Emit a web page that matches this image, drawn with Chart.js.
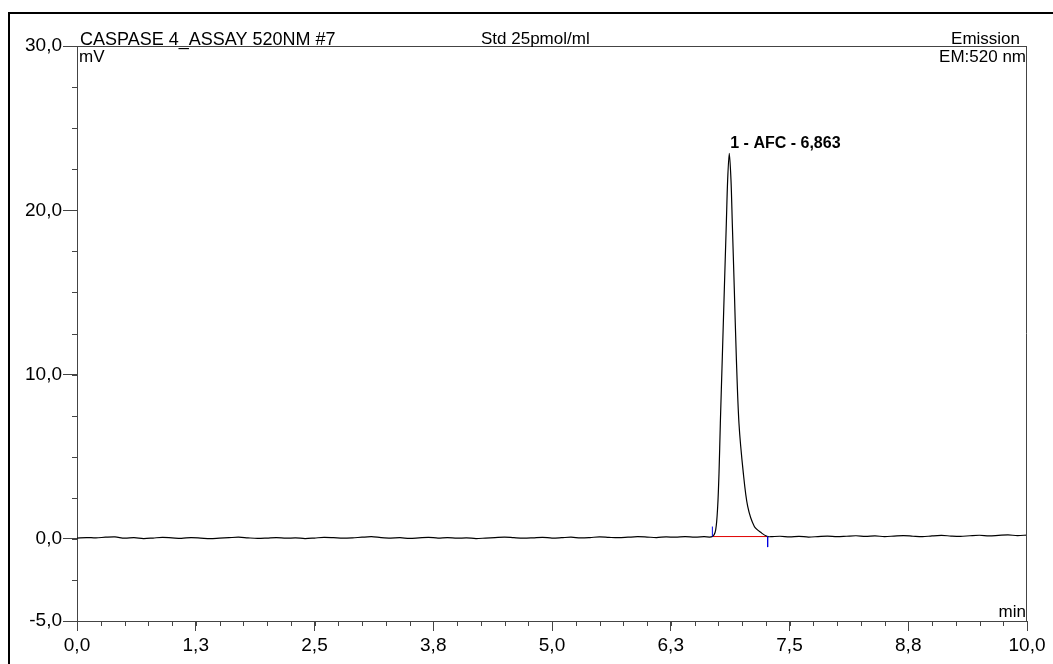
<!DOCTYPE html>
<html>
<head>
<meta charset="utf-8">
<script src="https://cdn.jsdelivr.net/npm/chart.js@4"></script>
<style>
  html, body { margin: 0; padding: 0; background: #fff; }
  #wrap { width: 1053px; height: 664px; }
</style>
</head>
<body>
<div id="wrap"><canvas id="myChart" width="1053" height="664"></canvas></div>
<script>
// chromatogram: baseline sampled every 0.1 min, peak traced by hand
const baseStep = 0.1;
const baseBefore = [0.05,0.08,0.06,0.1,0.12,0.04,0.07,0.02,0.05,0.09,
  0.06,0.03,0.08,0.05,0.01,0.04,0.07,0.1,0.06,0.03,
  0.05,0.08,0.04,0.06,0.02,0.05,0.09,0.07,0.04,0.06,
  0.1,0.13,0.08,0.05,0.07,0.03,0.06,0.09,0.05,0.08,
  0.04,0.06,0.02,0.05,0.08,0.11,0.07,0.04,0.06,0.09,
  0.05,0.07,0.1,0.06,0.08,0.12,0.09,0.07,0.1,0.13,
  0.11,0.08,0.12,0.1,0.14,0.11,0.13];           // 0.0 .. 6.6 min
const peakTimes = [6.688,6.723,6.744,6.758,6.772,6.793,6.814,6.835,6.849,6.866,
  6.884,6.898,6.919,6.94,6.968,7.014,7.06,7.13,7.207,7.27];
const peakValues = [0.14,0.55,1.97,4.0,7.04,11.1,15.2,19.2,21.85,23.47,
  21.85,19.2,15.2,11.1,7.04,4.0,1.97,0.75,0.35,0.14];
const afterStart = 7.3;
const baseAfter = [0.13,0.16,0.12,0.15,0.11,0.14,0.17,0.13,0.16,0.19,
  0.15,0.18,0.14,0.17,0.2,0.16,0.13,0.18,0.21,0.17,
  0.15,0.19,0.22,0.18,0.21,0.24,0.2,0.23];       // 7.3 .. 10.0 min

// peak annotation + integration limits
const peakName = '1 - AFC - 6,863';
const peakApex = 6.866;
const intStart = 6.688, intEnd = 7.27, intLevel = 0.14;

// axes
const xTickValues = [0, 1.25, 2.5, 3.75, 5, 6.25, 7.5, 8.75, 10];
const xTickLabels = ['0,0','1,3','2,5','3,8','5,0','6,3','7,5','8,8','10,0'];
const yTickValues = [30, 20, 10, 0, -5];
const yTickLabels = ['30,0','20,0','10,0','0,0','-5,0'];
const xMinorStep = 0.25, yMinorStep = 2.5;

const trace = [];
baseBefore.forEach((v, i) => trace.push({ x: +(i * baseStep).toFixed(2), y: v }));
peakTimes.forEach((t, i) => trace.push({ x: t, y: peakValues[i] }));
baseAfter.forEach((v, i) => trace.push({ x: +(afterStart + i * baseStep).toFixed(2), y: v }));

const FONT = '"Liberation Sans", Arial, sans-serif';

const decor = {
  id: 'decor',
  afterDraw(chart) {
    const ctx = chart.ctx;
    const a = chart.chartArea;
    const xs = chart.scales.x, ys = chart.scales.y;
    ctx.save();
    // outer frame (top + left)
    ctx.strokeStyle = '#000';
    ctx.lineWidth = 2;
    ctx.beginPath();
    ctx.moveTo(8, 13); ctx.lineTo(1053, 13);
    ctx.moveTo(9, 12); ctx.lineTo(9, 664);
    ctx.stroke();
    // plot box top + right
    ctx.strokeStyle = '#444';
    ctx.lineWidth = 1;
    ctx.beginPath();
    ctx.moveTo(a.left, a.top + 0.5); ctx.lineTo(a.right, a.top + 0.5);
    ctx.moveTo(a.right - 0.5, a.top); ctx.lineTo(a.right - 0.5, a.bottom);
    ctx.stroke();
    // minor ticks
    ctx.beginPath();
    for (let v = 0; v <= 10 + 1e-9; v += xMinorStep) {
      const px = Math.round(xs.getPixelForValue(v)) + 0.5;
      ctx.moveTo(px, a.bottom); ctx.lineTo(px, a.bottom + 5);
    }
    for (let v = -5; v <= 30 + 1e-9; v += yMinorStep) {
      const py = Math.round(ys.getPixelForValue(v)) + 0.5;
      ctx.moveTo(a.left - 5, py); ctx.lineTo(a.left, py);
    }
    ctx.stroke();
    // texts
    ctx.fillStyle = '#000';
    ctx.textBaseline = 'alphabetic';
    ctx.textAlign = 'left';
    ctx.font = '18px ' + FONT;
    ctx.fillText('CASPASE 4_ASSAY 520NM #7', a.left + 3, a.top - 1);
    ctx.font = '17px ' + FONT;
    ctx.fillText('Std 25pmol/ml', 481, a.top - 2);
    ctx.fillText('mV', a.left + 2, a.top + 16);
    ctx.textAlign = 'right';
    ctx.fillText('Emission', 1020, a.top - 2);
    ctx.fillText('EM:520 nm', a.right - 1, a.top + 16);
    ctx.fillText('min', a.right - 1, a.bottom - 4);
    // peak label
    const apexY = Math.max(...peakValues);
    ctx.font = 'bold 16px ' + FONT;
    ctx.textAlign = 'left';
    ctx.fillText(peakName, xs.getPixelForValue(peakApex) + 1, ys.getPixelForValue(apexY) - 5);
    ctx.restore();
  }
};

const config = {
  type: 'line',
  data: {
    datasets: [
      { data: trace, borderColor: '#000', borderWidth: 1.2, pointRadius: 0, tension: 0.3, order: 1 },
      { data: [{ x: intStart, y: intLevel }, { x: intEnd, y: intLevel }], borderColor: '#e00000', borderWidth: 1, pointRadius: 0, order: 2 },
      { data: [{ x: intStart, y: intLevel }, { x: intStart, y: 0.75 }], borderColor: '#0000e0', borderWidth: 1, pointRadius: 0, order: 0 },
      { data: [{ x: intEnd, y: intLevel }, { x: intEnd, y: -0.5 }], borderColor: '#0000e0', borderWidth: 1, pointRadius: 0, order: 0 }
    ]
  },
  options: {
    responsive: false,
    animation: false,
    layout: { padding: { left: 0, top: 46, right: 26, bottom: 0 } },
    plugins: { legend: { display: false }, tooltip: { enabled: false } },
    scales: {
      x: {
        type: 'linear', min: 0, max: 10,
        afterBuildTicks: (s) => { s.ticks = xTickValues.map(v => ({ value: v })); },
        afterFit: (s) => { s.height = 43; },
        ticks: {
          autoSkip: false, maxRotation: 0, padding: 3, color: '#000',
          font: { family: FONT, size: 19 },
          callback: (v, i) => xTickLabels[i]
        },
        grid: { drawOnChartArea: false, tickLength: 10, color: '#444' },
        border: { color: '#444' }
      },
      y: {
        type: 'linear', min: -5, max: 30,
        afterBuildTicks: (s) => { s.ticks = yTickValues.map(v => ({ value: v })); },
        afterFit: (s) => { s.width = 77; },
        ticks: {
          autoSkip: false, padding: 1, color: '#000',
          font: { family: FONT, size: 19 },
          callback: (v, i) => yTickLabels[i]
        },
        grid: { drawOnChartArea: false, tickLength: 14, color: '#444' },
        border: { color: '#444' }
      }
    }
  },
  plugins: [decor]
};

const myChart = new Chart(document.getElementById('myChart'), config);
</script>
</body>
</html>
